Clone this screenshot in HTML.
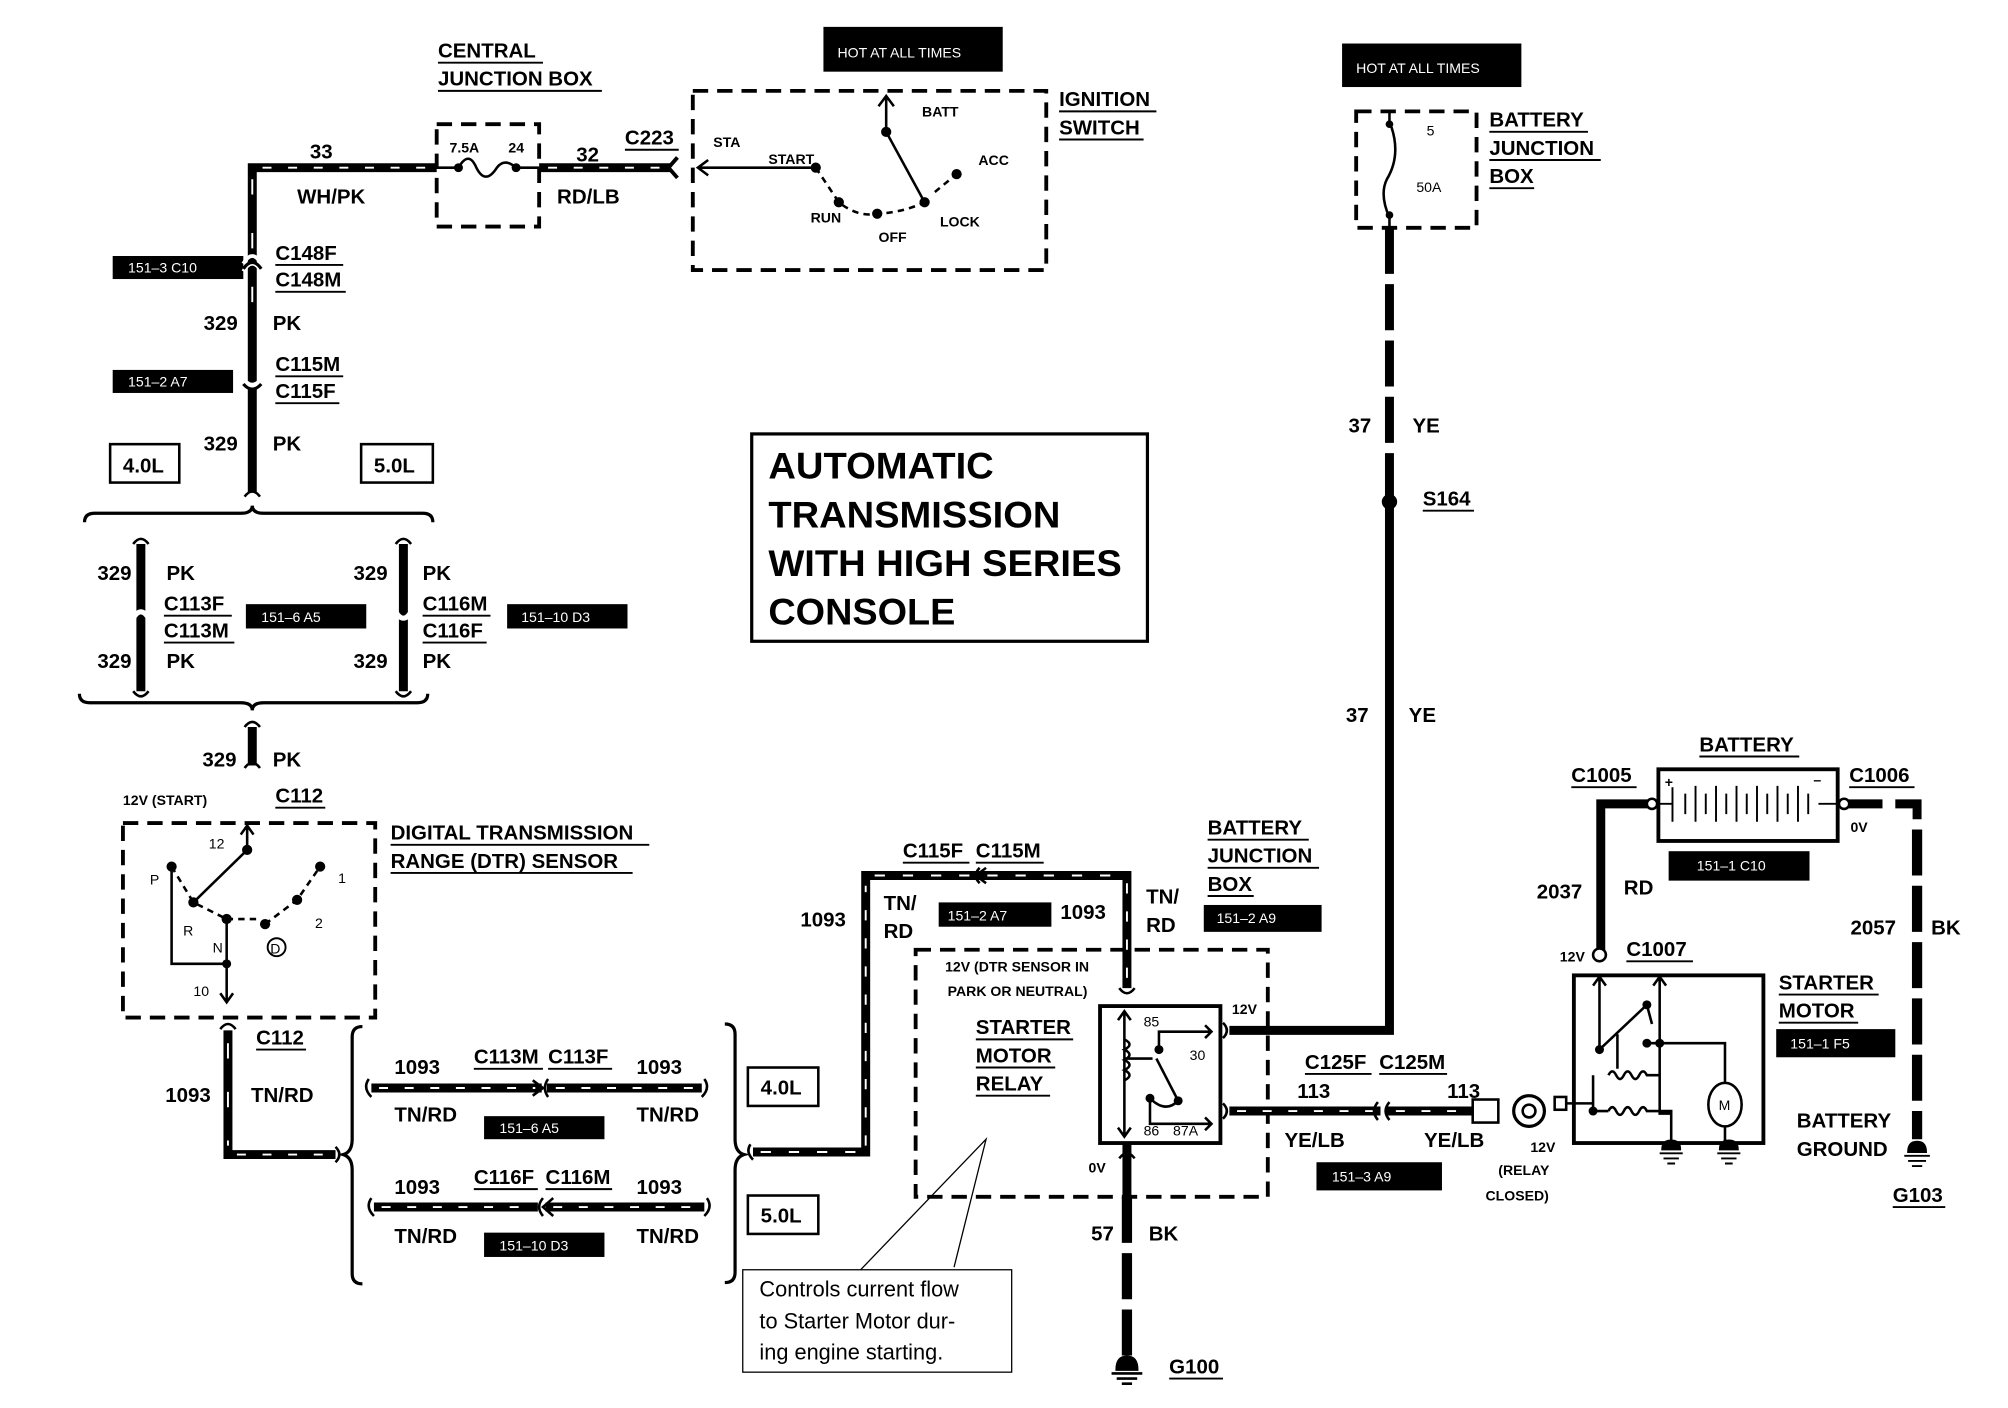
<!DOCTYPE html>
<html><head><meta charset="utf-8"><style>
html,body{margin:0;padding:0;background:#fff}
svg{display:block}
text{font-family:"Liberation Sans",sans-serif;font-weight:bold;fill:#000}
.w{stroke:#000;stroke-width:7;fill:none}
.wd{stroke:#fff;stroke-width:1.5;fill:none;stroke-dasharray:7 13}
.dw{stroke:#000;stroke-width:8;fill:none;stroke-dasharray:36 8}
.t{stroke:#000;stroke-width:2;fill:none}
.d{stroke:#000;stroke-width:3;fill:none;stroke-dasharray:12 7}
.u{stroke:#000;stroke-width:1.5}
.bx{fill:#000}
.bt{fill:#fff;font-weight:normal;font-size:11px}
.f{font-size:16px}
.s{font-size:11px}
</style></head><body>
<svg width="2008" height="1408" viewBox="0 0 1568 1100" preserveAspectRatio="none">
<!-- top left -->
<text x="342" y="45" class="f">CENTRAL</text><line x1="342" y1="49" x2="424" y2="49" class="u"/>
<text x="342" y="67" class="f">JUNCTION BOX</text><line x1="342" y1="71" x2="470" y2="71" class="u"/>
<path d="M197,385 V131 H341" class="w"/><path d="M197,140 V250" class="wd" style="stroke-dasharray:12 30"/><path d="M205,131 H335" class="wd"/>
<text x="242" y="124" class="f">33</text><text x="232" y="159" class="f">WH/PK</text>
<rect x="341" y="97" width="80" height="80" class="d"/>
<text x="351" y="119" class="s">7.5A</text><text x="397" y="119" class="s">24</text>
<path d="M341,131 H358 M403,131 H421 M358,131 q8,-14 14,0 q7,14 16,0 q6,-8 15,0" class="t"/>
<circle cx="358" cy="131" r="3.5"/><circle cx="403" cy="131" r="3.5"/>
<path d="M421,131 H524" class="w"/><path d="M428,131 H518" class="wd"/>
<path d="M529,123 L522,131 L529,139" class="t" style="stroke-width:3"/>
<text x="450" y="126" class="f">32</text><text x="435" y="159" class="f">RD/LB</text>
<text x="488" y="113" class="f">C223</text><line x1="488" y1="117" x2="530" y2="117" class="u"/>
<rect x="643" y="21" width="140" height="35" class="bx"/><text x="654" y="45" class="bt">HOT AT ALL TIMES</text>
<rect x="541" y="71" width="276" height="140" class="d"/>
<text x="827" y="83" class="f">IGNITION</text><line x1="827" y1="87" x2="903" y2="87" class="u"/>
<text x="827" y="105" class="f">SWITCH</text><line x1="827" y1="109" x2="893" y2="109" class="u"/>
<path d="M637,131 H545 M553,125 L545,131 L553,137" class="t"/>
<text x="557" y="115" class="s">STA</text><text x="600" y="128" class="s">START</text>
<text x="720" y="91" class="s">BATT</text><text x="764" y="129" class="s">ACC</text>
<text x="633" y="174" class="s">RUN</text><text x="686" y="189" class="s">OFF</text><text x="734" y="177" class="s">LOCK</text>
<path d="M692,103 V75 M686,83 L692,75 L698,83 M692,103 L722,158" class="t"/>
<path d="M637,131 L655,158 Q670,170 685,167 Q705,166 722,158 M730,150 L747,136" class="t" style="stroke-dasharray:5 4"/>
<circle cx="692" cy="103" r="4"/><circle cx="637" cy="131" r="4"/><circle cx="655" cy="158" r="4"/><circle cx="685" cy="167" r="4"/><circle cx="722" cy="158" r="4"/><circle cx="747" cy="136" r="4"/>
<!-- connectors left column -->
<rect x="88" y="200" width="102" height="18" class="bx"/><text x="100" y="213" class="bt">151–3 C10</text>
<path d="M190,212 q7,-12 14,0 M190,206 q7,-12 14,0" class="t" style="stroke:#fff;stroke-width:3"/>
<path d="M190,210 q7,-10 14,0" class="t" style="stroke-width:2.5"/>
<text x="215" y="203" class="f">C148F</text><line x1="215" y1="207" x2="268" y2="207" class="u"/>
<text x="215" y="224" class="f">C148M</text><line x1="215" y1="228" x2="270" y2="228" class="u"/>
<text x="159" y="258" class="f">329</text><text x="213" y="258" class="f">PK</text>
<rect x="88" y="289" width="94" height="18" class="bx"/><text x="100" y="302" class="bt">151–2 A7</text>
<path d="M190,297 q7,8 14,0" class="t" style="stroke:#fff;stroke-width:4"/>
<path d="M190,300 q7,8 14,0" class="t" style="stroke-width:2.5"/>
<text x="215" y="290" class="f">C115M</text><line x1="215" y1="294" x2="268" y2="294" class="u"/>
<text x="215" y="311" class="f">C115F</text><line x1="215" y1="315" x2="265" y2="315" class="u"/>
<text x="159" y="352" class="f">329</text><text x="213" y="352" class="f">PK</text>
<rect x="86" y="347" width="54" height="30" class="t"/><text x="96" y="369" class="f">4.0L</text>
<rect x="282" y="347" width="56" height="30" class="t"/><text x="292" y="369" class="f">5.0L</text>
<path d="M191,388 q6,-8 12,0" class="t"/>
<path d="M66,408 q0,-7 8,-7 H188 q9,0 9,-6 q0,6 9,6 H330 q8,0 8,7" class="t" style="stroke-width:2.5"/>
<path d="M110,425 V540 M315,425 V540" class="w"/>
<path d="M104,425 q6,-8 12,0 M309,425 q6,-8 12,0 M104,540 q6,8 12,0 M309,540 q6,8 12,0" class="t"/>
<path d="M104,483 q6,-10 12,0 M309,478 q6,10 12,0" class="t" style="stroke:#fff;stroke-width:4"/>
<text x="76" y="453" class="f">329</text><text x="130" y="453" class="f">PK</text>
<text x="128" y="477" class="f">C113F</text><line x1="128" y1="481" x2="181" y2="481" class="u"/>
<text x="128" y="498" class="f">C113M</text><line x1="128" y1="502" x2="183" y2="502" class="u"/>
<text x="76" y="522" class="f">329</text><text x="130" y="522" class="f">PK</text>
<rect x="192" y="472" width="94" height="19" class="bx"/><text x="204" y="486" class="bt">151–6 A5</text>
<text x="276" y="453" class="f">329</text><text x="330" y="453" class="f">PK</text>
<text x="330" y="477" class="f">C116M</text><line x1="330" y1="481" x2="383" y2="481" class="u"/>
<text x="330" y="498" class="f">C116F</text><line x1="330" y1="502" x2="380" y2="502" class="u"/>
<text x="276" y="522" class="f">329</text><text x="330" y="522" class="f">PK</text>
<rect x="396" y="472" width="94" height="19" class="bx"/><text x="407" y="486" class="bt">151–10 D3</text>
<path d="M62,542 q0,7 8,7 H188 q9,0 9,6 q0,-6 9,-6 H326 q8,0 8,-7" class="t" style="stroke-width:2.5"/>
<path d="M197,568 V598" class="w"/><path d="M191,568 q6,-8 12,0 M191,600 q6,-8 12,0" class="t"/>
<text x="158" y="599" class="f">329</text><text x="213" y="599" class="f">PK</text>
<text x="96" y="629" class="s">12V (START)</text>
<text x="215" y="627" class="f">C112</text><line x1="215" y1="631" x2="254" y2="631" class="u"/>
<!-- DTR -->
<rect x="96" y="643" width="197" height="152" class="d"/>
<text x="305" y="656" class="f">DIGITAL TRANSMISSION</text><line x1="305" y1="660" x2="507" y2="660" class="u"/>
<text x="305" y="678" class="f">RANGE (DTR) SENSOR</text><line x1="305" y1="682" x2="494" y2="682" class="u"/>
<path d="M193,664 V645 M188,652 L193,645 L198,652 M193,664 L151,705 M134,677 V753 H177 M177,718 V783 M172,776 L177,783 L182,776" class="t"/>
<path d="M134,677 L151,705 L177,718 M177,718 H200 M207,722 L232,703 L250,677" class="t" style="stroke-dasharray:5 4"/>
<circle cx="193" cy="664" r="4"/><circle cx="151" cy="705" r="4"/><circle cx="134" cy="677" r="4"/><circle cx="177" cy="718" r="4"/><circle cx="207" cy="722" r="4"/><circle cx="232" cy="703" r="4"/><circle cx="250" cy="677" r="4"/><circle cx="177" cy="753" r="3.5"/>
<circle cx="216" cy="740" r="7" class="t" style="stroke-width:1.5"/><text x="211" y="745" class="s" style="font-weight:normal">D</text>
<text x="163" y="663" class="s" style="font-weight:normal">12</text><text x="117" y="691" class="s" style="font-weight:normal">P</text>
<text x="143" y="731" class="s" style="font-weight:normal">R</text><text x="166" y="744" class="s" style="font-weight:normal">N</text>
<text x="246" y="725" class="s" style="font-weight:normal">2</text><text x="264" y="690" class="s" style="font-weight:normal">1</text>
<text x="151" y="778" class="s" style="font-weight:normal">10</text>
<!-- 1093 lower-left -->
<path d="M178,805 V902 H262" class="w"/><path d="M178,815 V895" class="wd" style="stroke-dasharray:12 26"/><path d="M185,902 H258" class="wd"/>
<path d="M172,804 q6,-8 12,0" class="t"/>
<text x="200" y="816" class="f">C112</text><line x1="200" y1="820" x2="239" y2="820" class="u"/>
<text x="129" y="861" class="f">1093</text><text x="196" y="861" class="f">TN/RD</text>
<path d="M262,896 q6,6 0,12" class="t"/>
<path d="M283,802 q-8,0 -8,8 V890 q0,10 -7,12 q7,2 7,12 V995 q0,8 8,8" class="t" style="stroke-width:2.5"/>
<path d="M566,800 q8,0 8,8 V890 q0,10 7,12 q-7,2 -7,12 V994 q0,8 -8,8" class="t" style="stroke-width:2.5"/>
<path d="M290,850 H423 M427,850 H548" class="w"/><path d="M296,850 H418 M434,850 H544" class="wd"/>
<path d="M288,843 q-5,7 2,14 M550,843 q5,7 -2,14 M416,844 L424,850 L416,856 M428,843 q-5,7 0,14" class="t"/>
<text x="308" y="839" class="f">1093</text><text x="497" y="839" class="f">1093</text>
<text x="370" y="831" class="f">C113M</text><line x1="370" y1="835" x2="424" y2="835" class="u"/>
<text x="428" y="831" class="f">C113F</text><line x1="428" y1="835" x2="478" y2="835" class="u"/>
<text x="308" y="876" class="f">TN/RD</text><text x="497" y="876" class="f">TN/RD</text>
<rect x="378" y="872" width="94" height="18" class="bx"/><text x="390" y="885" class="bt">151–6 A5</text>
<path d="M292,943 H420 M426,943 H550" class="w"/><path d="M298,943 H415 M432,943 H545" class="wd"/>
<path d="M290,936 q-5,7 2,14 M552,936 q5,7 -2,14 M424,936 q-6,7 0,14 M432,936 L424,943 L432,950" class="t"/>
<text x="308" y="933" class="f">1093</text><text x="497" y="933" class="f">1093</text>
<text x="370" y="925" class="f">C116F</text><line x1="370" y1="929" x2="420" y2="929" class="u"/>
<text x="426" y="925" class="f">C116M</text><line x1="426" y1="929" x2="478" y2="929" class="u"/>
<text x="308" y="971" class="f">TN/RD</text><text x="497" y="971" class="f">TN/RD</text>
<rect x="378" y="963" width="94" height="19" class="bx"/><text x="390" y="977" class="bt">151–10 D3</text>
<rect x="584" y="834" width="55" height="30" class="t"/><text x="594" y="855" class="f">4.0L</text>
<rect x="584" y="934" width="55" height="30" class="t"/><text x="594" y="955" class="f">5.0L</text>
<!-- middle wire -->
<path d="M588,900 H676 V684 H880 V772" class="w"/>
<path d="M594,900 H670 M676,895 V692 M683,684 H873 M880,690 V765" class="wd" style="stroke-dasharray:8 14"/>
<path d="M586,894 q-4,6 2,12 M874,772 q6,8 12,0 M765,678 q-6,6 0,12 M770,678 L762,684 L770,690" class="t"/>
<text x="705" y="670" class="f">C115F</text><line x1="705" y1="674" x2="757" y2="674" class="u"/>
<text x="762" y="670" class="f">C115M</text><line x1="762" y1="674" x2="815" y2="674" class="u"/>
<text x="625" y="724" class="f">1093</text><text x="690" y="711" class="f">TN/</text><text x="690" y="733" class="f">RD</text>
<rect x="733" y="705" width="88" height="19" class="bx"/><text x="740" y="719" class="bt">151–2 A7</text>
<text x="828" y="718" class="f">1093</text><text x="895" y="706" class="f">TN/</text><text x="895" y="728" class="f">RD</text>
<text x="943" y="652" class="f">BATTERY</text><line x1="943" y1="656" x2="1022" y2="656" class="u"/>
<text x="943" y="674" class="f">JUNCTION</text><line x1="943" y1="678" x2="1030" y2="678" class="u"/>
<text x="943" y="696" class="f">BOX</text><line x1="943" y1="700" x2="979" y2="700" class="u"/>
<rect x="940" y="707" width="92" height="21" class="bx"/><text x="950" y="721" class="bt">151–2 A9</text>
<!-- title -->
<rect x="587" y="339" width="309" height="162" class="t" style="stroke-width:2.5"/>
<text x="600" y="374" style="font-size:29px" textLength="176" lengthAdjust="spacingAndGlyphs">AUTOMATIC</text>
<text x="600" y="412" style="font-size:29px" textLength="228" lengthAdjust="spacingAndGlyphs">TRANSMISSION</text>
<text x="600" y="450" style="font-size:29px" textLength="276" lengthAdjust="spacingAndGlyphs">WITH HIGH SERIES</text>
<text x="600" y="488" style="font-size:29px" textLength="146" lengthAdjust="spacingAndGlyphs">CONSOLE</text>
<!-- relay -->
<rect x="715" y="742" width="275" height="193" class="d"/>
<text x="738" y="759" class="s">12V (DTR SENSOR IN</text><text x="740" y="778" class="s">PARK OR NEUTRAL)</text>
<text x="762" y="808" class="f">STARTER</text><line x1="762" y1="812" x2="838" y2="812" class="u"/>
<text x="762" y="830" class="f">MOTOR</text><line x1="762" y1="834" x2="824" y2="834" class="u"/>
<text x="762" y="852" class="f">RELAY</text><line x1="762" y1="856" x2="820" y2="856" class="u"/>
<rect x="859" y="786" width="94" height="107" class="t" style="stroke-width:3"/>
<path d="M878,790 V888 M873,797 L878,790 L883,797 M873,881 L878,888 L883,881 M878,812 q8,4 0,8 q8,4 0,8 q8,4 0,8 q8,4 0,8 M878,827 H900 M903,827 L920,860 Q910,870 898,858 M898,858 V878 H946 M941,873 L946,878 L941,883 M905,820 V806 H946 M941,801 L946,806 L941,811" class="t"/>
<circle cx="905" cy="820" r="3.5"/><circle cx="920" cy="860" r="3.5"/><circle cx="898" cy="858" r="3.5"/>
<text x="893" y="802" class="s" style="font-weight:normal">85</text><text x="929" y="828" class="s" style="font-weight:normal">30</text>
<text x="893" y="887" class="s" style="font-weight:normal">86</text><text x="916" y="887" class="s" style="font-weight:normal">87A</text>
<text x="962" y="792" class="s">12V</text><text x="850" y="916" class="s">0V</text>
<path d="M960,805 H1085 V392" class="w"/>
<path d="M1085,178 V392" class="dw" style="stroke-width:7"/>
<path d="M955,799 q6,6 0,12 M955,862 q6,6 0,12" class="t"/>
<circle cx="1085" cy="392" r="6"/>
<text x="1053" y="338" class="f">37</text><text x="1103" y="338" class="f">YE</text>
<text x="1111" y="395" class="f">S164</text><line x1="1111" y1="399" x2="1151" y2="399" class="u"/>
<text x="1051" y="564" class="f">37</text><text x="1100" y="564" class="f">YE</text>
<rect x="1048" y="34" width="140" height="34" class="bx"/><text x="1059" y="57" class="bt">HOT AT ALL TIMES</text>
<rect x="1059" y="87" width="94" height="91" class="d"/>
<path d="M1085,87 V95 q10,25 -2,45 q-6,12 2,30 V178" class="t"/><circle cx="1085" cy="97" r="3"/><circle cx="1085" cy="168" r="3"/>
<text x="1114" y="106" class="s" style="font-weight:normal">5</text><text x="1106" y="150" class="s" style="font-weight:normal">50A</text>
<text x="1163" y="99" class="f">BATTERY</text><line x1="1163" y1="103" x2="1240" y2="103" class="u"/>
<text x="1163" y="121" class="f">JUNCTION</text><line x1="1163" y1="125" x2="1250" y2="125" class="u"/>
<text x="1163" y="143" class="f">BOX</text><line x1="1163" y1="147" x2="1198" y2="147" class="u"/>
<!-- 113 wire -->
<path d="M960,868 H1078 M1083,868 H1150" class="w"/><path d="M966,868 H1072 M1090,868 H1146" class="wd"/>
<path d="M1076,861 q-6,7 0,14 M1085,861 q-6,7 0,14" class="t"/>
<rect x="1150" y="859" width="20" height="18" class="t" style="fill:#fff"/>
<circle cx="1194" cy="868" r="12" class="t" style="fill:#fff;stroke-width:2.5"/><circle cx="1194" cy="868" r="5" class="t"/>
<text x="1019" y="835" class="f">C125F</text><line x1="1019" y1="839" x2="1071" y2="839" class="u"/>
<text x="1077" y="835" class="f">C125M</text><line x1="1077" y1="839" x2="1130" y2="839" class="u"/>
<text x="1013" y="858" class="f">113</text><text x="1130" y="858" class="f">113</text>
<text x="1003" y="896" class="f">YE/LB</text><text x="1112" y="896" class="f">YE/LB</text>
<rect x="1028" y="908" width="98" height="22" class="bx"/><text x="1040" y="923" class="bt">151–3 A9</text>
<text x="1195" y="900" class="s">12V</text><text x="1170" y="918" class="s">(RELAY</text><text x="1160" y="938" class="s">CLOSED)</text>
<!-- G100 -->
<path d="M880,893 V935" class="w"/><path d="M880,935 V1062" class="dw"/>
<path d="M874,905 q6,-8 12,0" class="t"/>
<path d="M872,1070 q0,-10 8,-10 q8,0 8,10 Z M868,1073 H892 M872,1077 H888 M876,1081 H884" class="t" style="fill:#000"/>
<text x="852" y="969" class="f">57</text><text x="897" y="969" class="f">BK</text>
<text x="913" y="1073" class="f">G100</text><line x1="913" y1="1077" x2="955" y2="1077" class="u"/>
<!-- callout -->
<path d="M672,992 L770,890 L745,990" class="t" style="stroke-width:1"/>
<rect x="580" y="992" width="210" height="80" fill="#fff" stroke="#000" stroke-width="1"/>
<text x="593" y="1013" style="font-size:17px;font-weight:normal">Controls current flow</text>
<text x="593" y="1038" style="font-size:17px;font-weight:normal">to Starter Motor dur-</text>
<text x="593" y="1062" style="font-size:17px;font-weight:normal">ing engine starting.</text>
<!-- battery -->
<text x="1327" y="587" class="f">BATTERY</text><line x1="1327" y1="591" x2="1405" y2="591" class="u"/>
<text x="1227" y="611" class="f">C1005</text><line x1="1227" y1="615" x2="1278" y2="615" class="u"/>
<text x="1444" y="611" class="f">C1006</text><line x1="1444" y1="615" x2="1495" y2="615" class="u"/>
<rect x="1295" y="601" width="140" height="56" class="t" style="stroke-width:3"/>
<path d="M1290,628 H1250 V743" class="w"/>
<path d="M1440,628 H1470 M1480,628 H1497 V640" class="w"/><path d="M1497,648 V890" class="dw"/>
<circle cx="1290" cy="628" r="4" fill="#fff" stroke="#000" stroke-width="2"/><circle cx="1440" cy="628" r="4" fill="#fff" stroke="#000" stroke-width="2"/>
<path d="M1294,628 H1306 M1306,615 V642 M1316,620 V636 M1324,614 V642 M1332,620 V636 M1340,614 V642 M1348,620 V636 M1356,614 V642 M1364,620 V636 M1372,614 V642 M1380,620 V636 M1388,614 V642 M1396,620 V636 M1404,614 V642 M1412,620 V636 M1420,628 H1436" class="t" style="stroke-width:1.5"/>
<text x="1300" y="615" class="s">+</text><text x="1416" y="613" class="s">–</text>
<rect x="1303" y="665" width="110" height="23" class="bx"/><text x="1325" y="680" class="bt">151–1 C10</text>
<text x="1445" y="650" class="s">0V</text>
<text x="1200" y="702" class="f">2037</text><text x="1268" y="699" class="f">RD</text>
<text x="1445" y="730" class="f">2057</text><text x="1508" y="730" class="f">BK</text>
<text x="1218" y="751" class="s">12V</text>
<text x="1270" y="747" class="f">C1007</text><line x1="1270" y1="751" x2="1322" y2="751" class="u"/>
<circle cx="1249" cy="746" r="5" fill="#fff" stroke="#000" stroke-width="2"/>
<rect x="1229" y="762" width="148" height="131" class="t" style="stroke-width:3"/>
<path d="M1249,762 V820 M1244,770 L1249,763 L1254,770 M1249,820 L1286,785 L1290,800 M1296,763 V870 H1305 M1291,770 L1296,763 L1301,770 M1286,815 H1296 M1296,815 H1347 V848 M1263,808 V835 M1256,840 q3,-6 6,0 q3,6 6,0 q3,-6 6,0 q3,6 6,0 q3,-6 6,0 H1296 M1256,868 q3,-6 6,0 q3,6 6,0 q3,-6 6,0 q3,6 6,0 q3,-6 6,0 H1305 V893 M1244,840 V868 H1256 M1347,878 V893 M1220,862 H1244" class="t"/>
<circle cx="1249" cy="820" r="3.5"/><circle cx="1286" cy="785" r="3.5"/><circle cx="1286" cy="815" r="3.5"/><circle cx="1296" cy="815" r="3.5"/><circle cx="1244" cy="868" r="3.5"/>
<rect x="1214" y="857" width="9" height="10" class="t" style="fill:#fff"/>
<ellipse cx="1347" cy="863" rx="13" ry="17" fill="#fff" stroke="#000" stroke-width="2"/><text x="1342" y="867" class="s" style="font-weight:normal">M</text>
<path d="M1298,898 q0,-7 7,-7 q7,0 7,7 Z M1296,901 H1314 M1299,905 H1311 M1302,909 H1308 M1343,898 q0,-7 7,-7 q7,0 7,7 Z M1341,901 H1359 M1344,905 H1356 M1347,909 H1353 M1490,900 q0,-8 7,-8 q7,0 7,8 Z M1487,903 H1507 M1490,907 H1504 M1493,911 H1501" class="t" style="fill:#000;stroke-width:1.5"/>
<text x="1389" y="773" class="f">STARTER</text><line x1="1389" y1="777" x2="1467" y2="777" class="u"/>
<text x="1389" y="795" class="f">MOTOR</text><line x1="1389" y1="799" x2="1451" y2="799" class="u"/>
<rect x="1387" y="804" width="93" height="22" class="bx"/><text x="1398" y="819" class="bt">151–1 F5</text>
<text x="1403" y="881" class="f">BATTERY</text><text x="1403" y="903" class="f">GROUND</text>
<text x="1478" y="939" class="f">G103</text><line x1="1478" y1="943" x2="1519" y2="943" class="u"/>
</svg>
</body></html>
